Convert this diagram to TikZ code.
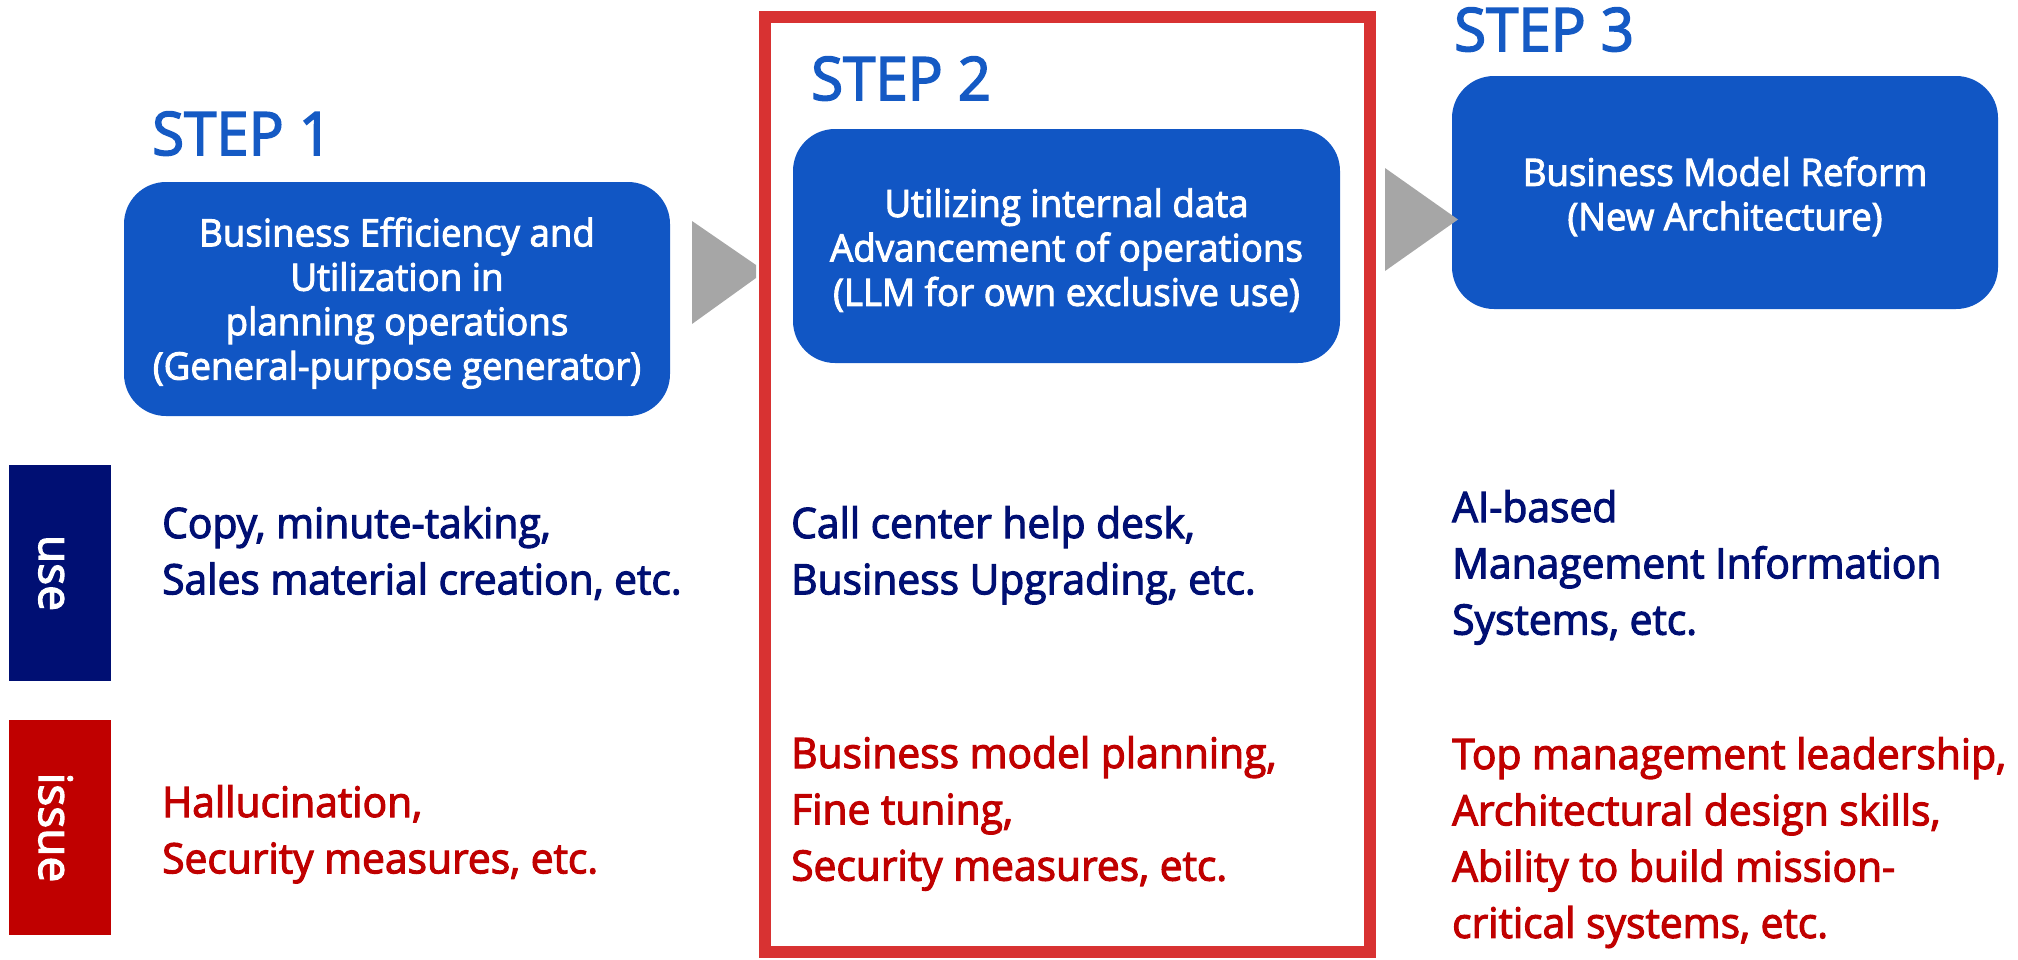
\documentclass[tikz,border=0pt]{standalone}
\usepackage{fontspec}
\setmainfont{Open Sans}[FakeBold=2.6, FakeStretch=0.97]
\newfontfamily\tagfont{Open Sans}[FakeBold=2.8]
\definecolor{cStepBlue}{RGB}{21,90,196}
\definecolor{cBoxBlue}{RGB}{17,86,196}
\definecolor{cNavy}{RGB}{0,15,115}
\definecolor{cRed}{RGB}{192,0,0}
\definecolor{cFrame}{RGB}{216,50,50}
\definecolor{cGray}{RGB}{166,166,166}
\tikzset{
  stepbox/.style={fill=cBoxBlue, draw=none, rounded corners=42pt, inner sep=0pt},
  boxtext/.style={text=white, align=center, inner sep=0pt,
    font=\fontsize{37.8}{44.4}\selectfont},
  steplabel/.style={text=cStepBlue, anchor=base west, inner sep=0pt,
    font=\fontsize{60}{60}\selectfont},
  usetext/.style={text=cNavy, anchor=base west, inner sep=0pt,
    font=\fontsize{42}{56.3}\selectfont},
  issuetext/.style={text=cRed, anchor=base west, inner sep=0pt,
    font=\fontsize{42}{56.3}\selectfont},
  tagbox/.style={draw=none, inner sep=0pt, minimum width=102pt},
  tagtext/.style={text=white, rotate=-90, anchor=base, inner sep=0pt,
    font=\tagfont\fontsize{46}{46}\selectfont},
  focusframe/.style={draw=cFrame, line width=12pt, inner sep=0pt},
  stagearrow/.style={fill=cGray, draw=none}
}
\begin{document}
\begin{tikzpicture}[x=1pt,y=-1pt]
\useasboundingbox (0,0) rectangle (2018,959);

% highlighted second stage
\node[focusframe, minimum width=605pt, minimum height=935pt] (focus) at (1067.5,484.5) {};

% stage titles
\node[steplabel] (s1) at (152,155) {STEP 1};
\node[steplabel] (s2) at (811,100) {STEP 2};
\node[steplabel] (s3) at (1454,51) {STEP 3};

% stage boxes
\node[stepbox, minimum width=546pt, minimum height=234pt] (b1) at (397,299) {};
\node[stepbox, minimum width=547pt, minimum height=234pt] (b2) at (1066.5,246) {};
\node[stepbox, minimum width=546pt, minimum height=233pt] (b3) at (1725,192.5) {};

\node[boxtext] (t1) at ([yshift=-4pt]b1.center)
  {Business Efficiency and\\Utilization in\\planning operations\\(General-purpose generator)};
\node[boxtext] (t2) at ([yshift=-4pt]b2.center)
  {Utilizing internal data\\Advancement of operations\\(LLM for own exclusive use)};
\node[boxtext] (t3) at ([yshift=-4pt]b3.center)
  {Business Model Reform\\(New Architecture)};

% progression arrows (the first one ends under the frame)
\fill[stagearrow] (692,221) -- (756,265) -- (756,278) -- (692,324) -- cycle;
\fill[stagearrow] (1385,168) -- (1458,219.5) -- (1385,271) -- cycle;

% row tags
\node[tagbox, fill=cNavy, minimum height=216pt] (tuse) at (60,573) {};
\node[tagbox, fill=cRed, minimum height=215pt] (tissue) at (60,827.5) {};
\node[tagtext] (luse) at (39,573) {use};
\node[tagtext] (lissue) at (39,827.5) {issue};

% use row
\node[usetext] (u1) at (162,538)
  {\vtop{\hbox{Copy, minute-taking,}\hbox{Sales material creation, etc.}}};
\node[usetext] (u2) at (791,538)
  {\vtop{\hbox{Call center help desk,}\hbox{Business Upgrading, etc.}}};
\node[usetext] (u3) at (1452,522)
  {\vtop{\hbox{AI-based}\hbox{Management Information}\hbox{Systems, etc.}}};

% issue row
\node[issuetext] (i1) at (162,817)
  {\vtop{\hbox{Hallucination,}\hbox{Security measures, etc.}}};
\node[issuetext] (i2) at (791,768)
  {\vtop{\hbox{Business model planning,}\hbox{Fine tuning,}\hbox{Security measures, etc.}}};
\node[issuetext] (i3) at (1452,769)
  {\vtop{\hbox{Top management leadership,}\hbox{Architectural design skills,}\hbox{Ability to build mission-}\hbox{critical systems, etc.}}};
\end{tikzpicture}
\end{document}
